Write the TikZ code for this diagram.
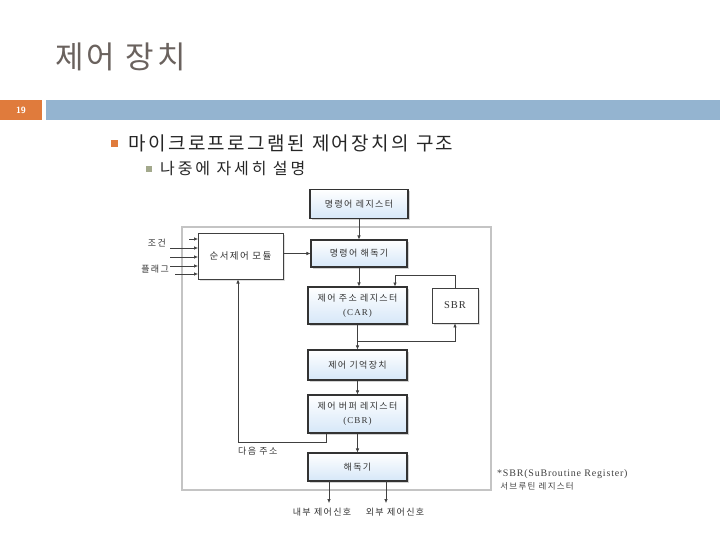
\documentclass[tikz,border=0pt]{standalone}
\usepackage{fontspec}
\setmainfont{Liberation Serif}
\newfontfamily\kr{Noto Sans CJK KR}[LetterSpace=15]
\newfontfamily\krtitle{Noto Sans CJK KR}[LetterSpace=10]
\newfontfamily\krbone{Noto Sans CJK KR}[LetterSpace=13]
\newfontfamily\krbtwo{Noto Sans CJK KR}[LetterSpace=18]
\newfontfamily\rmw{Liberation Serif}[LetterSpace=12]
\newfontfamily\rmn{Liberation Serif}[LetterSpace=8]
\usetikzlibrary{shadows,arrows.meta}
\definecolor{titlegray}{HTML}{6A625E}
\definecolor{barblue}{HTML}{94B4D0}
\definecolor{orng}{HTML}{E07B3C}
\definecolor{bul2}{HTML}{A3A98C}
\definecolor{boxline}{HTML}{333333}
\definecolor{framegray}{HTML}{C4C4C4}
\definecolor{boxblue}{HTML}{D6E7F8}
\tikzset{
  bluebox/.style={draw=boxline, line width=1.1pt, top color=white, bottom color=boxblue,
    drop shadow={shadow xshift=1.5pt, shadow yshift=-1.5pt, fill=black!35},
    inner sep=0pt, align=center, font=\kr\fontsize{9}{14}\selectfont, text=black!80},
  whitebox/.style={draw=black!75, line width=0.7pt, fill=white,
    drop shadow={shadow xshift=1.5pt, shadow yshift=-1.5pt, fill=black!25},
    inner sep=0pt, align=center, text=black!80},
  arr/.style={draw=black!75, line width=0.6pt, -{Latex[length=4pt,width=3.5pt]}},
  lbl/.style={font=\kr\fontsize{9}{11}\selectfont, text=black!80, inner sep=0pt},
}
\begin{document}
\begin{tikzpicture}[x=1pt,y=-1pt]
\useasboundingbox (0,0) rectangle (720,540);
% header
\node[anchor=west, inner sep=0pt, text=titlegray, font=\krtitle\fontsize{31}{33}\selectfont] (title) at (55,57) {제어 장치};
\fill[orng] (0,100) rectangle (42,120);
\node[text=white, font=\sffamily\bfseries\fontsize{9}{10}\selectfont] (pg) at (21,110) {19};
\fill[barblue] (46,100) rectangle (720,120);
% bullets
\fill[orng] (111,140) rectangle (118,147);
\node[anchor=west, inner sep=0pt, text=black!85, font=\krbone\fontsize{19}{21}\selectfont] (b1) at (128,143) {마이크로프로그램된 제어장치의 구조};
\fill[bul2] (146,166) rectangle (152,172);
\node[anchor=west, inner sep=0pt, text=black!85, font=\krbtwo\fontsize{16}{18}\selectfont] (b2) at (160,169) {나중에 자세히 설명};
% frame
\draw[framegray, line width=1.2pt] (182,227) rectangle (491,490);
% boxes
\node[bluebox, minimum width=98pt, minimum height=29pt] (ir) at (359,204) {명령어 레지스터};
\node[bluebox, minimum width=96pt, minimum height=27pt] (dec1) at (359,253.5) {명령어 해독기};
\node[whitebox, minimum width=85pt, minimum height=46pt, font=\kr\fontsize{9.5}{12}\selectfont] (seq) at (240.5,256) {순서제어 모듈};
\node[bluebox, minimum width=99pt, minimum height=37pt] (car) at (357.5,305.5) {제어 주소 레지스터\\{\rmw (CAR)}};
\node[whitebox, minimum width=46pt, minimum height=35pt, font=\rmn\fontsize{10.5}{12}\selectfont] (sbr) at (455,305.5) {SBR};
\node[bluebox, minimum width=99pt, minimum height=30pt] (mem) at (357.5,365) {제어 기억장치};
\node[bluebox, minimum width=99pt, minimum height=38pt] (cbr) at (357.5,414) {제어 버퍼 레지스터\\{\rmw (CBR)}};
\node[bluebox, minimum width=99pt, minimum height=28pt] (dec2) at (357.5,467) {해독기};
% main flow
\draw[arr] (ir.south) -- (ir.south |- dec1.north);
\draw[arr] (dec1.south) -- (dec1.south |- car.north);
\draw[arr] (seq.east |- dec1.west) -- (dec1.west);
\draw[arr] (car.south) -- (mem.north);
\draw[arr] (mem.south) -- (cbr.north);
\draw[arr] (cbr.south) -- (dec2.north);
% SBR loop
\coordinate (fbtop) at (395,275);
\coordinate (fbin) at (395,286.5);
\draw[arr] (sbr.north) |- (fbtop) -- (fbin);
\coordinate (br) at (357.5,341);
\draw[arr] (br) -| (sbr.south);
% next address
\coordinate (na0) at (326,433.5);
\coordinate (na1) at (326,442);
\coordinate (na2) at (238,442);
\coordinate (na3) at (238,279.5);
\draw[arr] (na0) -- (na1) -- (na2) -- (na3);
\node[lbl, anchor=west] (nal) at (238,451) {다음 주소};
% inputs
\coordinate (i1s) at (189,239); \coordinate (i1e) at (198,239);
\coordinate (i2s) at (170,248); \coordinate (i2e) at (198,248);
\coordinate (i3s) at (170,257); \coordinate (i3e) at (198,257);
\coordinate (i4s) at (170,266); \coordinate (i4e) at (198,266);
\coordinate (i5s) at (175,274); \coordinate (i5e) at (198,274);
\foreach \i in {1,...,5}{\draw[arr] (i\i s) -- (i\i e);}
\node[lbl, anchor=east] (cond) at (166,243) {조건};
\node[lbl, anchor=east] (flag) at (169,269) {플래그};
% outputs
\coordinate (o1s) at (329,481); \coordinate (o1e) at (329,503);
\coordinate (o2s) at (386,481); \coordinate (o2e) at (386,503);
\draw[arr] (o1s) -- (o1e);
\draw[arr] (o2s) -- (o2e);
\node[lbl] (int) at (322,512) {내부 제어신호};
\node[lbl] (ext) at (395,512) {외부 제어신호};
% note
\node[anchor=west, inner sep=0pt, align=left, text=black!75, font=\rmn\fontsize{10}{13.5}\selectfont] (note) at (497,480) {*SBR(SuBroutine Register)\\ \kr\fontsize{8.5}{13.5}\selectfont\ 서브루틴 레지스터};
\end{tikzpicture}
\end{document}
